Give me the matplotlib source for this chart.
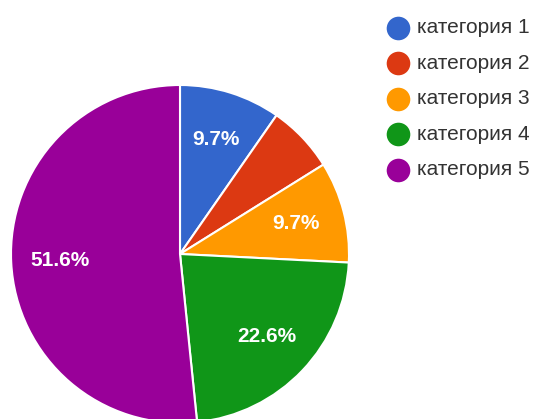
import matplotlib.pyplot as plt

categories = ['категория 1', 'категория 2', 'категория 3', 'категория 4', 'категория 5']
values = [3, 2, 3, 7, 16]
colors = ['#3366cc', '#dc3912', '#ff9900', '#109618', '#990099']

W, H = 536, 419
fig = plt.figure(figsize=(W / 100, H / 100), dpi=100)
ax = fig.add_axes([0, 0, 1, 1])

plt.rcParams['font.family'] = ['Liberation Sans', 'DejaVu Sans']


def pct_label(p):
    # small slices get no label, like the original
    return f'{p:.1f}%' if p > 7 else ''


wedges, texts, autotexts = ax.pie(
    values, colors=colors, startangle=90, counterclock=False,
    center=(180, H - 254), radius=169, autopct=pct_label, pctdistance=0.71,
    wedgeprops=dict(edgecolor='white', linewidth=1.5),
    textprops=dict(color='white', fontsize=15, fontweight='bold',
                   family='Liberation Sans'),
    frame=True)
ax.set_xlim(0, W)
ax.set_ylim(0, H)
ax.set_aspect('equal')
ax.set_axis_off()

# legend
for i, (cat, c) in enumerate(zip(categories, colors)):
    y = H - (28 + 35.5 * i)
    ax.plot(398, y, marker='o', markersize=17, color=c, markeredgewidth=0)
    ax.text(417, y, cat, fontsize=15, color='#333333', va='center', ha='left',
            family='Liberation Sans')

fig.savefig('out.png', dpi=100)
